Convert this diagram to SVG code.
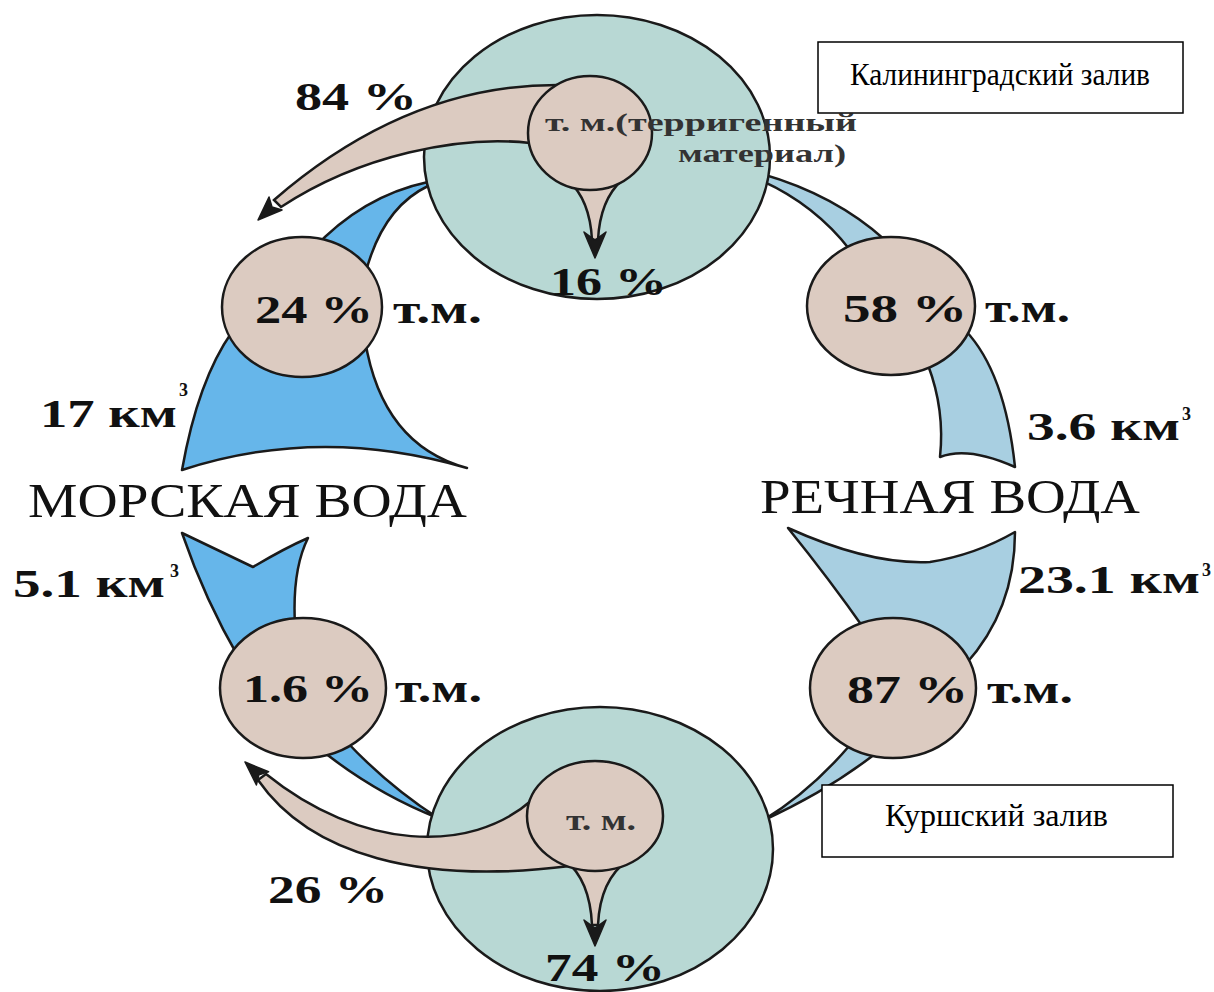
<svg xmlns="http://www.w3.org/2000/svg" width="1214" height="992" viewBox="0 0 1214 992">
<style>
.bay{fill:#b8d8d4;stroke:#1a1a1a;stroke-width:2.5}
.tan{fill:#dccbc1;stroke:#1a1a1a;stroke-width:2.5}
.sea{fill:#66b6ea;stroke:#1a1a1a;stroke-width:2.5;stroke-linejoin:round}
.riv{fill:#a8cfe1;stroke:#1a1a1a;stroke-width:2.5;stroke-linejoin:round}
.head{fill:#1a1a1a;stroke:#1a1a1a;stroke-width:1.5;stroke-linejoin:round}
.lbl{font-family:"Liberation Serif","Times New Roman",serif;font-weight:bold;font-size:41px;fill:#111}
.sup{font-family:"Liberation Serif","Times New Roman",serif;font-weight:bold;font-size:18px;fill:#111}
.big{font-family:"Liberation Serif","Times New Roman",serif;font-size:48px;fill:#111}
.inner{font-family:"Liberation Serif","Times New Roman",serif;font-weight:bold;fill:#333}
.box{fill:#fff;stroke:#000;stroke-width:1.5}
.boxt{font-family:"Liberation Serif","Times New Roman",serif;font-size:31px;fill:#000}
</style>
<rect width="1214" height="992" fill="#fff"/>

<g id="connectors">
  <path class="sea" d="M 428,182 Q 362,196 312,250 L 365,275 Q 382,208 428,186 Z"/>
  <path class="sea" d="M 232,332 Q 198,380 182,470 Q 320,425 467,468 Q 382,445 365,340 Z"/>
  <path class="sea" d="M 182,533 L 253,567 Q 285,548 308,538 Q 292,570 295,625 L 240,660 Q 205,600 182,533 Z"/>
  <path class="sea" d="M 315,745 Q 372,792 438,818 Q 388,786 345,740 Z"/>
  <path class="riv" d="M 762,181 Q 815,205 850,250 L 885,240 Q 835,195 762,174 Z"/>
  <path class="riv" d="M 928,365 Q 945,410 940,457 Q 968,446 1015,467 Q 1005,372 965,330 Z"/>
  <path class="riv" d="M 788,528 Q 870,565 930,562 Q 975,555 1015,532 Q 1015,610 965,665 L 865,630 Q 830,580 788,528 Z"/>
  <path class="riv" d="M 850,745 Q 810,792 762,821 Q 830,790 880,750 Z"/>
</g>

<g id="kaliningrad-bay">
  <ellipse class="bay" cx="597" cy="157" rx="173" ry="142"/>
  <path class="tan" d="M 565,85 Q 410,82 274,200 L 281,207 C 360,155 460,135 530,143 Z"/>
  <polygon class="head" points="258,220 269,197 272,207 282,210"/>
  <path class="tan" d="M 568,180 Q 590,200 592,240 L 598,240 Q 600,200 622,180 Z"/>
  <polygon class="head" points="595,258 584,232 595,240 606,232"/>
  <ellipse class="tan" cx="590" cy="133" rx="62" ry="57"/>
  <text class="inner" x="545" y="131" font-size="26" textLength="312" lengthAdjust="spacingAndGlyphs">т. м.(терригенный</text>
  <text class="inner" x="678" y="162" font-size="26" textLength="168" lengthAdjust="spacingAndGlyphs">материал)</text>
</g>

<g id="kursh-bay">
  <ellipse class="bay" cx="600" cy="849" rx="173" ry="142"/>
  <path class="tan" d="M 532,800 C 470,855 360,850 266,774 L 258,780 C 310,855 420,885 570,866 Z"/>
  <polygon class="head" points="245,762 268.6,771.7 258.9,774.9 256.4,784.9"/>
  <path class="tan" d="M 565,860 Q 590,880 592,925 L 598,925 Q 600,880 628,860 Z"/>
  <polygon class="head" points="595,946 584,920 595,928 606,920"/>
  <ellipse class="tan" cx="595" cy="816" rx="68" ry="55"/>
  <text class="inner" x="566" y="830" font-size="30" textLength="70" lengthAdjust="spacingAndGlyphs">т. м.</text>
</g>

<g id="node-24">
  <ellipse class="tan" cx="302" cy="307" rx="80" ry="70"/>
  <text class="lbl" x="255" y="323" textLength="118" lengthAdjust="spacingAndGlyphs">24 %</text>
  <text class="lbl" x="393" y="323" textLength="89" lengthAdjust="spacingAndGlyphs">т.м.</text>
</g>
<g id="node-58">
  <ellipse class="tan" cx="891" cy="306" rx="84" ry="69"/>
  <text class="lbl" x="843" y="322" textLength="124" lengthAdjust="spacingAndGlyphs">58 %</text>
  <text class="lbl" x="985" y="322" textLength="85" lengthAdjust="spacingAndGlyphs">т.м.</text>
</g>
<g id="node-1-6">
  <ellipse class="tan" cx="303" cy="688" rx="83" ry="70"/>
  <text class="lbl" x="243" y="702" textLength="130" lengthAdjust="spacingAndGlyphs">1.6 %</text>
  <text class="lbl" x="395" y="702" textLength="87" lengthAdjust="spacingAndGlyphs">т.м.</text>
</g>
<g id="node-87">
  <ellipse class="tan" cx="893" cy="688" rx="83" ry="70"/>
  <text class="lbl" x="847" y="703" textLength="121" lengthAdjust="spacingAndGlyphs">87 %</text>
  <text class="lbl" x="987" y="703" textLength="86" lengthAdjust="spacingAndGlyphs">т.м.</text>
</g>

<g id="labels">
  <text class="lbl" x="295" y="110" textLength="122" lengthAdjust="spacingAndGlyphs">84 %</text>
  <text class="lbl" x="550" y="295" textLength="117" lengthAdjust="spacingAndGlyphs">16 %</text>
  <text class="lbl" x="268" y="903" textLength="120" lengthAdjust="spacingAndGlyphs">26 %</text>
  <text class="lbl" x="545" y="981" textLength="120" lengthAdjust="spacingAndGlyphs">74 %</text>
  <text class="lbl" x="40" y="427" textLength="137" lengthAdjust="spacingAndGlyphs">17 км</text>
  <text class="sup" x="179" y="396">3</text>
  <text class="lbl" x="1027" y="440" textLength="153" lengthAdjust="spacingAndGlyphs">3.6 км</text>
  <text class="sup" x="1182" y="420">3</text>
  <text class="lbl" x="13" y="597" textLength="152" lengthAdjust="spacingAndGlyphs">5.1 км</text>
  <text class="sup" x="170" y="577">3</text>
  <text class="lbl" x="1018" y="593" textLength="182" lengthAdjust="spacingAndGlyphs">23.1 км</text>
  <text class="sup" x="1202" y="576">3</text>
  <text class="big" x="28" y="517" textLength="439" lengthAdjust="spacingAndGlyphs">МОРСКАЯ ВОДА</text>
  <text class="big" x="760" y="513" textLength="380" lengthAdjust="spacingAndGlyphs">РЕЧНАЯ ВОДА</text>
</g>

<g id="box-kaliningrad">
  <rect class="box" x="818" y="42" width="365" height="71"/>
  <text class="boxt" x="850" y="85" textLength="300" lengthAdjust="spacingAndGlyphs">Калининградский залив</text>
</g>
<g id="box-kursh">
  <rect class="box" x="822" y="785" width="351" height="72"/>
  <text class="boxt" x="885" y="826" textLength="223" lengthAdjust="spacingAndGlyphs">Куршский залив</text>
</g>
</svg>
